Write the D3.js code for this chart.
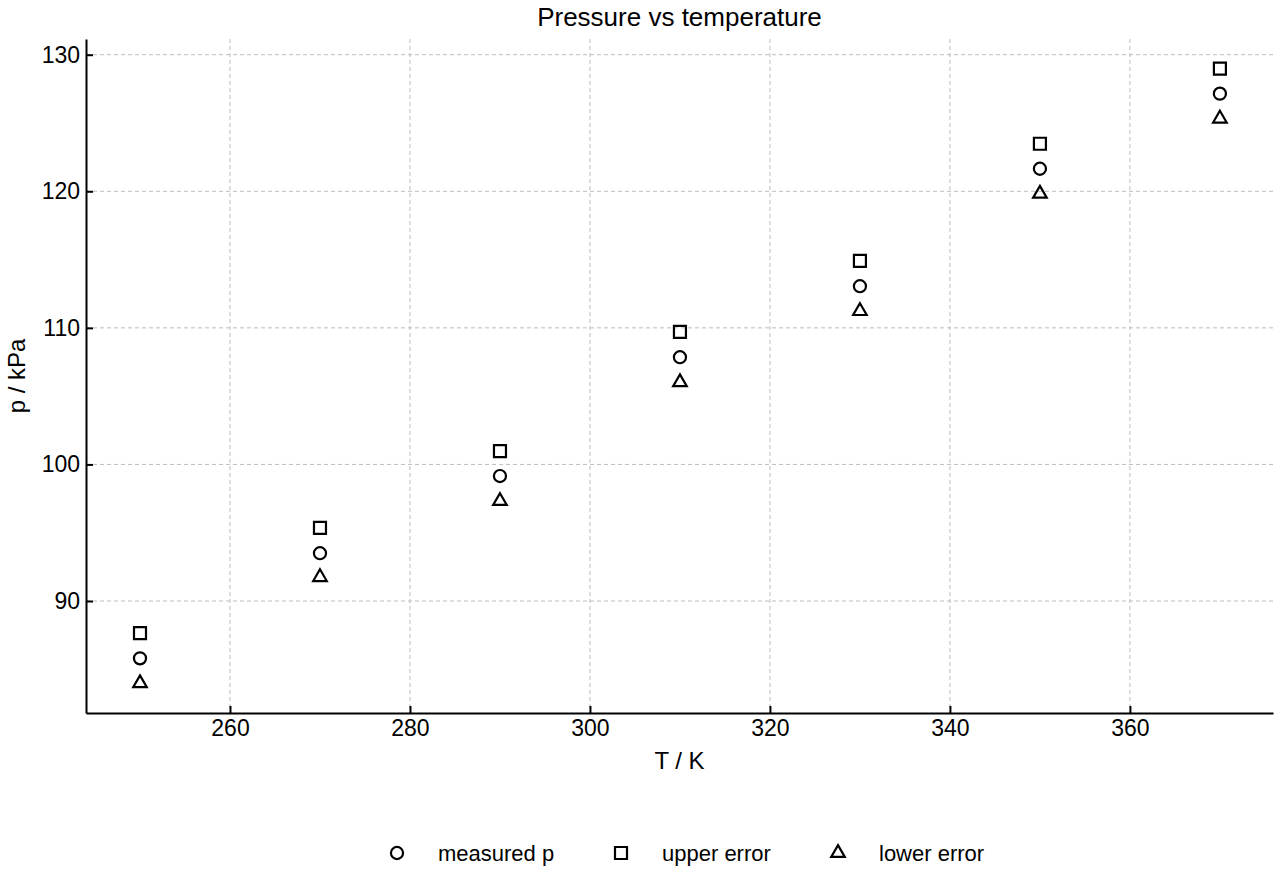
<!DOCTYPE html>
<html>
<head>
<meta charset="utf-8">
<script src="https://cdn.jsdelivr.net/npm/d3@7"></script>
<style>
  html, body { margin: 0; padding: 0; background: #fff; }
  svg { display: block; font-family: "Liberation Sans", Arial, sans-serif; }
</style>
</head>
<body>
<div id="chart"></div>
<script>
// temperatures (K) and pressures (kPa)
var temps = [250, 270, 290, 310, 330, 350, 370];
var measured = [85.8, 93.5, 99.15, 107.85, 113.05, 121.65, 127.15];
var upper = [87.65, 95.35, 100.98, 109.7, 114.9, 123.48, 128.98];
var lower = [83.98, 91.75, 97.32, 106.02, 111.23, 119.82, 125.32];
var xTicks = [260, 280, 300, 320, 340, 360];
var yTicks = [90, 100, 110, 120, 130];

var seriesList = [
  { name: 'measured p', values: measured, shape: d3.symbolCircle, size: 115 },
  { name: 'upper error', values: upper, shape: d3.symbolSquare, size: 144 },
  { name: 'lower error', values: lower, shape: d3.symbolTriangle, size: 80 }
];

var width = 1280, height = 880;
var margin = { top: 39, right: 7, bottom: 167, left: 86 };
var font = '"Liberation Sans", Arial, sans-serif';

var svg = d3.select('#chart').append('svg')
  .attr('width', width)
  .attr('height', height);

var x = d3.scaleLinear().domain([244, 375.9]).range([margin.left, width - margin.right]);
var y = d3.scaleLinear().domain([81.8, 131.15]).range([height - margin.bottom, margin.top]);

// grid
svg.append('g').selectAll('line')
  .data(xTicks)
  .join('line')
  .attr('x1', function (d) { return x(d); })
  .attr('x2', function (d) { return x(d); })
  .attr('y1', margin.top)
  .attr('y2', height - margin.bottom)
  .attr('stroke', '#bdbdbd')
  .attr('stroke-dasharray', '4,3');

svg.append('g').selectAll('line')
  .data(yTicks)
  .join('line')
  .attr('x1', margin.left)
  .attr('x2', width - margin.right)
  .attr('y1', function (d) { return y(d); })
  .attr('y2', function (d) { return y(d); })
  .attr('stroke', '#bdbdbd')
  .attr('stroke-dasharray', '4,3');

// axes with inward ticks
svg.append('g')
  .attr('transform', 'translate(0,' + (height - margin.bottom) + ')')
  .call(d3.axisBottom(x).tickValues(xTicks).tickSizeInner(-7).tickSizeOuter(0).tickPadding(7))
  .call(function (g) { g.select('.domain').attr('stroke', '#000').attr('stroke-width', 2); })
  .call(function (g) { g.selectAll('.tick line').attr('stroke', '#000').attr('stroke-width', 2); })
  .call(function (g) { g.selectAll('text').attr('font-size', 23).attr('fill', '#000').attr('font-family', font); });

svg.append('g')
  .attr('transform', 'translate(' + margin.left + ',0)')
  .call(d3.axisLeft(y).tickValues(yTicks).tickSizeInner(-7).tickSizeOuter(0).tickPadding(6))
  .call(function (g) { g.select('.domain').attr('stroke', '#000').attr('stroke-width', 2); })
  .call(function (g) { g.selectAll('.tick line').attr('stroke', '#000').attr('stroke-width', 2); })
  .call(function (g) { g.selectAll('text').attr('font-size', 23).attr('fill', '#000').attr('font-family', font); });

// markers
seriesList.forEach(function (s) {
  svg.append('g').selectAll('path')
    .data(temps)
    .join('path')
    .attr('transform', function (d, i) { return 'translate(' + x(d) + ',' + y(s.values[i]) + ')'; })
    .attr('d', d3.symbol().type(s.shape).size(s.size))
    .attr('fill', 'none')
    .attr('stroke', '#000')
    .attr('stroke-width', 2.2);
});

// labels
svg.append('text')
  .attr('x', (margin.left + width - margin.right) / 2)
  .attr('y', 26)
  .attr('text-anchor', 'middle')
  .attr('font-size', 26)
  .text('Pressure vs temperature');

svg.append('text')
  .attr('x', (margin.left + width - margin.right) / 2)
  .attr('y', 769)
  .attr('text-anchor', 'middle')
  .attr('font-size', 24)
  .text('T / K');

svg.append('text')
  .attr('transform', 'translate(25,' + ((margin.top + height - margin.bottom) / 2) + ') rotate(-90)')
  .attr('text-anchor', 'middle')
  .attr('font-size', 24)
  .text('p / kPa');

// legend
var legendX = [397, 621, 838];
var legend = svg.append('g').attr('transform', 'translate(0,853)');
seriesList.forEach(function (s, i) {
  legend.append('path')
    .attr('transform', 'translate(' + legendX[i] + ',0)')
    .attr('d', d3.symbol().type(s.shape).size(s.size))
    .attr('fill', 'none')
    .attr('stroke', '#000')
    .attr('stroke-width', 2.2);
  legend.append('text')
    .attr('x', legendX[i] + 41)
    .attr('y', 8)
    .attr('font-size', 22)
    .text(s.name);
});
</script>
</body>
</html>
